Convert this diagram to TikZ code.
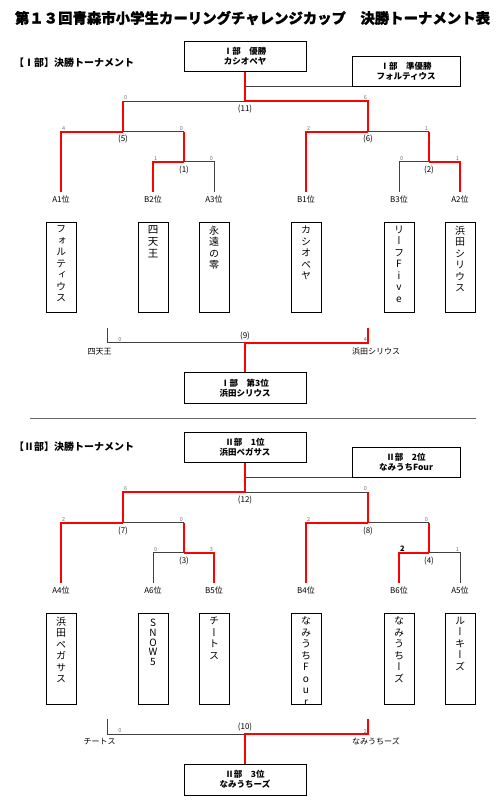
\documentclass[tikz,border=0pt]{standalone}
\usepackage{fontspec}
\setmainfont{Noto Sans CJK JP}
\newfontfamily\vjp[RawFeature=+vert]{Noto Sans CJK JP}
\newfontfamily\heavy[FakeBold=1.2]{Noto Sans CJK JP}
\newcommand\fs[1]{\fontsize{#1}{#1}\selectfont}
\tikzset{
  win/.style={draw=red, line width=1.8pt},
  los/.style={draw=black!75, line width=0.9pt},
  resbox/.style={draw, line width=0.8pt, minimum width=122pt, minimum height=30.6pt, inner sep=0pt, align=center, font=\fontsize{8.5}{10}\selectfont\bfseries},
  rubox/.style={resbox, minimum width=108pt, minimum height=30pt},
  teambox/.style={draw, line width=0.8pt, minimum width=30pt, minimum height=90pt, inner sep=0pt, anchor=north},
  teamtxt/.style={anchor=north, inner sep=0pt, align=center, yshift=-3.5pt, font=\vjp\fontsize{10}{11.5}\selectfont},
  slot/.style={font=\fs{8}, inner xsep=0pt, inner ysep=3.5pt},
  mlbl/.style={font=\fs{8}, inner sep=0pt},
  tlbl/.style={font=\fs{8}, inner sep=0pt},
  score/.style={font=\fs{5.5}, text=black!55, inner sep=0.8pt},
  seclbl/.style={font=\fs{10}\bfseries, inner sep=0pt, anchor=west},
}
\begin{document}
\begin{tikzpicture}[x=1pt,y=-1pt]
\useasboundingbox (0,0) rectangle (503,800);
\node[font=\heavy\fs{14.4}\bfseries, inner sep=0pt] (title) at (252.5,18) {第１３回青森市小学生カーリングチャレンジカップ　決勝トーナメント表};

% ================= Section I =================
\node[seclbl] (sec1) at (14,63) {【Ⅰ部】決勝トーナメント};
\node[resbox] (w1) at (245,56.5) {Ⅰ部　優勝\\カシオペヤ};
\node[rubox] (ru1) at (406,71) {Ⅰ部　準優勝\\フォルティウス};

\coordinate (c11) at (245,101); \coordinate (c11L) at (123,101); \coordinate (c11R) at (368,101);
\coordinate (c5) at (123,131.7); \coordinate (c5L) at (61,131.7); \coordinate (c5R) at (184,131.7);
\coordinate (c1) at (184,161.7); \coordinate (c1L) at (153,161.7); \coordinate (c1R) at (214,161.7);
\coordinate (c6) at (368,131.7); \coordinate (c6L) at (306,131.7); \coordinate (c6R) at (429,131.7);
\coordinate (c2) at (429,161.7); \coordinate (c2L) at (399,161.7); \coordinate (c2R) at (460,161.7);

\node[mlbl] (l11) at (245,108.7) {(11)};
\node[mlbl] (l5) at (123,139) {(5)};
\node[mlbl] (l1) at (184,170) {(1)};
\node[mlbl] (l6) at (368,139) {(6)};
\node[mlbl] (l2) at (429,170) {(2)};

\node[score, anchor=south west] (s11a) at (c11L) {0};
\node[score, anchor=south east] (s11b) at (c11R) {6};
\node[score, anchor=south west] (s5a) at (c5L) {4};
\node[score, anchor=south east] (s5b) at (c5R) {0};
\node[score, anchor=south west] (s1a) at (c1L) {1};
\node[score, anchor=south east] (s1b) at (c1R) {0};
\node[score, anchor=south west] (s6a) at (c6L) {2};
\node[score, anchor=south east] (s6b) at (c6R) {1};
\node[score, anchor=south west] (s2a) at (c2L) {0};
\node[score, anchor=south east] (s2b) at (c2R) {1};

\node[slot] (sA1) at (61,199.5) {A1位};
\node[slot] (sB2) at (153,199.5) {B2位};
\node[slot] (sA3) at (214,199.5) {A3位};
\node[slot] (sB1) at (306,199.5) {B1位};
\node[slot] (sB3) at (399,199.5) {B3位};
\node[slot] (sA2) at (460,199.5) {A2位};

\draw[los] (ru1.south west) -- (ru1.south west -| w1.south);
\draw[los] (c11) -- (c11L);
\draw[los] (c5) -- (c5R);
\draw[los] (c1) -- (c1R) -- (sA3.north);
\draw[los] (c6) -- (c6R);
\draw[los] (c2) -- (c2L) -- (sB3.north);

\draw[win] (w1.south) -- (c11) -- (c11R) -- (c6);
\draw[win] (c11L) -- (c5);
\draw[win] (c5) -- (c5L) -- (sA1.north);
\draw[win] (c5R) -- (c1);
\draw[win] (c1) -- (c1L) -- (sB2.north);
\draw[win] (c6) -- (c6L) -- (sB1.north);
\draw[win] (c6R) -- (c2);
\draw[win] (c2) -- (c2R) -- (sA2.north);

\node[teambox] (bA1) at (61,222.3) {};
\node[teambox] (bB2) at (153,222.3) {};
\node[teambox] (bA3) at (214,222.3) {};
\node[teambox] (bB1) at (306,222.3) {};
\node[teambox] (bB3) at (399,222.3) {};
\node[teambox] (bA2) at (460,222.3) {};
\node[teamtxt] (tA1) at (bA1.north) {フ\\ォ\\ル\\テ\\ィ\\ウ\\ス};
\node[teamtxt, font=\vjp\fontsize{10.5}{12}\selectfont] (tB2) at (bB2.north) {四\\天\\王};
\node[teamtxt] (tA3) at (bA3.north) {永\\遠\\の\\零};
\node[teamtxt] (tB1) at (bB1.north) {カ\\シ\\オ\\ペ\\ヤ};
\node[teamtxt] (tB3) at (bB3.north) {リ\\ー\\フ\\F\\i\\v\\e};
\node[teamtxt] (tA2) at (bA2.north) {浜\\田\\シ\\リ\\ウ\\ス};

% third place I
\coordinate (t9L) at (107,328.3); \coordinate (c9L) at (107,342.7);
\coordinate (c9) at (245,342.7);
\coordinate (c9R) at (368,342.7); \coordinate (t9R) at (368,328.3);
\node[mlbl] (l9) at (245,335.7) {(9)};
\node[score] (s9a) at (120,339.5) {0};
\node[score, anchor=south east] (s9b) at (c9R) {4};
\node[tlbl] (n9L) at (99.5,351.5) {四天王};
\node[tlbl] (n9R) at (376,351.5) {浜田シリウス};
\node[resbox] (b31) at (245,388) {Ⅰ部　第3位\\浜田シリウス};
\draw[los] (t9L) -- (c9L) -- (c9);
\draw[win] (t9R) -- (c9R) -- (c9) -- (b31.north);

% separator
\draw[draw=black!60, line width=0.9pt] (30,418.3) coordinate (sepL) -- (476,418.3) coordinate (sepR);

% ================= Section II =================
\node[seclbl] (sec2) at (14,446.7) {【Ⅱ部】決勝トーナメント};
\node[resbox] (w2) at (245,447.3) {Ⅱ部　1位\\浜田ペガサス};
\node[rubox] (ru2) at (406,462.3) {Ⅱ部　2位\\なみうちFour};

\coordinate (c12) at (245,492); \coordinate (c12L) at (123,492); \coordinate (c12R) at (368,492);
\coordinate (c7) at (123,522.7); \coordinate (c7L) at (61,522.7); \coordinate (c7R) at (184,522.7);
\coordinate (c3) at (184,552.7); \coordinate (c3L) at (153,552.7); \coordinate (c3R) at (214,552.7);
\coordinate (c8) at (368,522.7); \coordinate (c8L) at (306,522.7); \coordinate (c8R) at (429,522.7);
\coordinate (c4) at (429,552.7); \coordinate (c4L) at (399,552.7); \coordinate (c4R) at (460,552.7);

\node[mlbl] (l12) at (245,500) {(12)};
\node[mlbl] (l7) at (123,530.7) {(7)};
\node[mlbl] (l3) at (184,561) {(3)};
\node[mlbl] (l8) at (368,530.7) {(8)};
\node[mlbl] (l4) at (429,561) {(4)};

\node[score, anchor=south west] (s12a) at (c12L) {6};
\node[score, anchor=south east] (s12b) at (c12R) {0};
\node[score, anchor=south west] (s7a) at (c7L) {2};
\node[score, anchor=south east] (s7b) at (c7R) {0};
\node[score, anchor=south west] (s3a) at (c3L) {0};
\node[score, anchor=south east] (s3b) at (c3R) {3};
\node[score, anchor=south west] (s8a) at (c8L) {2};
\node[score, anchor=south east] (s8b) at (c8R) {0};
\node[font=\fs{7.5}\bfseries, inner sep=0pt] (s4a) at (402.5,548.5) {2};
\node[score, anchor=south east] (s4b) at (c4R) {1};

\node[slot] (sA4) at (61,590.7) {A4位};
\node[slot] (sA6) at (153,590.7) {A6位};
\node[slot] (sB5) at (214,590.7) {B5位};
\node[slot] (sB4) at (306,590.7) {B4位};
\node[slot] (sB6) at (399,590.7) {B6位};
\node[slot] (sA5) at (460,590.7) {A5位};

\draw[los] (ru2.south west) -- (ru2.south west -| w2.south);
\draw[los] (c12) -- (c12R);
\draw[los] (c7) -- (c7R);
\draw[los] (c3) -- (c3L) -- (sA6.north);
\draw[los] (c8) -- (c8R);
\draw[los] (c4) -- (c4R) -- (sA5.north);

\draw[win] (w2.south) -- (c12) -- (c12L) -- (c7);
\draw[win] (c12R) -- (c8);
\draw[win] (c7) -- (c7L) -- (sA4.north);
\draw[win] (c7R) -- (c3);
\draw[win] (c3) -- (c3R) -- (sB5.north);
\draw[win] (c8) -- (c8L) -- (sB4.north);
\draw[win] (c8R) -- (c4);
\draw[win] (c4) -- (c4L) -- (sB6.north);

\node[teambox, minimum height=91pt] (bA4) at (61,613.3) {};
\node[teambox, minimum height=91pt] (bA6) at (153,613.3) {};
\node[teambox, minimum height=91pt] (bB5) at (214,613.3) {};
\node[teambox, minimum height=91pt] (bB4) at (306,613.3) {};
\node[teambox, minimum height=91pt] (bB6) at (399,613.3) {};
\node[teambox, minimum height=91pt] (bA5) at (460,613.3) {};
\node[teamtxt] (tA4) at (bA4.north) {浜\\田\\ペ\\ガ\\サ\\ス};
\node[teamtxt, font=\vjp\fontsize{10}{9.8}\selectfont] (tA6) at ([yshift=-2pt]bA6.north) {S\\N\\O\\W\\5};
\node[teamtxt] (tB5) at (bB5.north) {チ\\ー\\ト\\ス};
\node[teamtxt] (tB4) at (bB4.north) {な\\み\\う\\ち\\F\\o\\u\\r};
\node[teamtxt] (tB6) at (bB6.north) {な\\み\\う\\ち\\ー\\ズ};
\node[teamtxt] (tA5) at (bA5.north) {ル\\ー\\キ\\ー\\ズ};

% third place II
\coordinate (t10L) at (107,719.3); \coordinate (c10L) at (107,734);
\coordinate (c10) at (245,734);
\coordinate (c10R) at (368,734); \coordinate (t10R) at (368,719.3);
\node[mlbl] (l10) at (245,727.3) {(10)};
\node[score] (s10a) at (120,731) {0};
\node[score, anchor=south east] (s10b) at (c10R) {2};
\node[tlbl] (n10L) at (99.5,741.7) {チートス};
\node[tlbl] (n10R) at (376,741.7) {なみうちーズ};
\node[resbox] (b32) at (245,779.7) {Ⅱ部　3位\\なみうちーズ};
\draw[los] (t10L) -- (c10L) -- (c10);
\draw[win] (t10R) -- (c10R) -- (c10) -- (b32.north);
\end{tikzpicture}
\end{document}
